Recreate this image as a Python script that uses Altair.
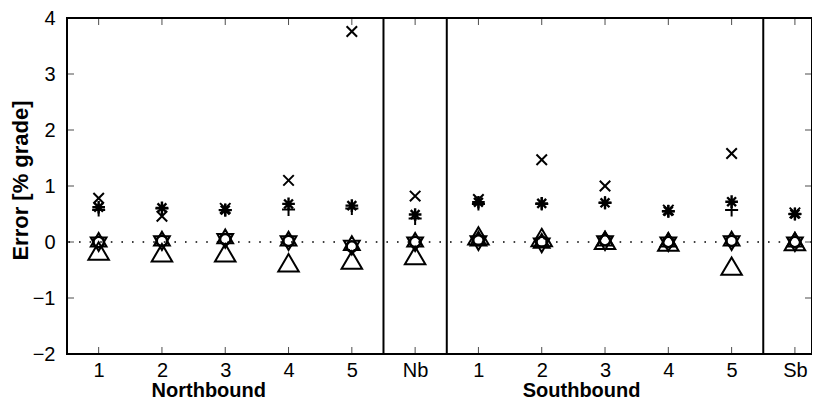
import json
import altair as alt
import pandas as pd

# ---- data ----
categories = ["1", "2", "3", "4", "5", "Nb", "1", "2", "3", "4", "5", "Sb"]
positions = list(range(1, 13))
cross_vals = [0.78, 0.46, 0.60, 1.10, 3.76, 0.82, 0.76, 1.47, 1.00, 0.57, 1.58, 0.52]
aster_vals = [0.62, 0.61, 0.57, 0.68, 0.65, 0.49, 0.71, 0.69, 0.70, 0.55, 0.72, 0.50]
plus_vals = [0.57, 0.60, 0.57, 0.58, 0.60, 0.42, 0.68, 0.68, 0.70, 0.55, 0.57, 0.50]
circle_vals = [0.00, 0.02, 0.05, 0.02, -0.08, 0.00, 0.03, 0.00, 0.03, 0.00, 0.02, 0.00]
hexa_vals = [0.00, 0.02, 0.06, 0.02, -0.06, 0.00, 0.02, -0.02, 0.02, 0.00, 0.02, 0.00]
tri_vals = [-0.17, -0.20, -0.20, -0.38, -0.33, -0.25, 0.10, 0.07, 0.02, -0.01, -0.44, 0.00]
separators = [5.5, 6.5, 11.5]
group_labels = ["Northbound", "Southbound"]
group_pos = [2.74, 8.63]
y_ticks = [-2, -1, 0, 1, 2, 3, 4]

W, H = 745, 336
FONT = "Liberation Sans"

xs = alt.Scale(domain=[0.5, 12.27], nice=False, zero=False)
ys = alt.Scale(domain=[-2, 4], nice=False, zero=False)

label_expr = "%s[datum.value - 1]" % json.dumps(categories)

x_axis = alt.Axis(values=positions, labelExpr=label_expr, ticks=False, domain=False,
                  grid=False, labelFont=FONT, labelFontSize=20, labelColor="black",
                  labelPadding=6, title=None)
y_axis = alt.Axis(values=y_ticks, ticks=False, domain=False, grid=False,
                  labelFont=FONT, labelFontSize=20, labelColor="black", labelPadding=12,
                  title="Error [% grade]", titleFont=FONT, titleFontSize=22,
                  titleFontWeight="bold", titleColor="black", titleX=-35, titleY=H / 2 - 6)

shapes = {
    "cross": ("M-1,-1L1,1M1,-1L-1,1", 110, 2, cross_vals),
    "aster": ("M-1,0L1,0M0,-1L0,1M-0.7,-0.7L0.7,0.7M-0.7,0.7L0.7,-0.7", 160, 2.4, aster_vals),
    "plus": ("M-1,0L1,0M0,-1L0,1", 170, 2, plus_vals),
    "circle": ("circle", 110, 2.6, circle_vals),
    "hexa": ("M0,-1L0.289,-0.5L0.866,-0.5L0.577,0L0.866,0.5L0.289,0.5L0,1L-0.289,0.5"
             "L-0.866,0.5L-0.577,0L-0.866,-0.5L-0.289,-0.5Z", 330, 2, hexa_vals),
    "tri": ("M0,-0.9L1,0.8L-1,0.8Z", 420, 2, tri_vals),
}

layers = []

# zero dotted line
layers.append(
    alt.Chart(pd.DataFrame({"y": [0]})).mark_rule(
        color="black", strokeWidth=1.6, strokeDash=[1.6, 9]
    ).encode(y=alt.Y("y:Q", scale=ys, axis=y_axis))
)

# separators
layers.append(
    alt.Chart(pd.DataFrame({"x": separators})).mark_rule(color="black", strokeWidth=2)
    .encode(x=alt.X("x:Q", scale=xs, axis=x_axis))
)

for name, (shape, size, sw, vals) in shapes.items():
    df = pd.DataFrame({"x": positions, "y": vals})
    layers.append(
        alt.Chart(df).mark_point(shape=shape, size=size, filled=False, color="black",
                                 strokeWidth=sw, opacity=1)
        .encode(x=alt.X("x:Q", scale=xs, axis=x_axis), y=alt.Y("y:Q", scale=ys, axis=y_axis))
    )

# inward ticks
xt = pd.DataFrame({"x": positions})
for yv in [H - 3.5, 3.5]:
    layers.append(
        alt.Chart(xt).mark_tick(orient="vertical", size=7, thickness=1, color="black")
        .encode(x=alt.X("x:Q", scale=xs, axis=x_axis), y=alt.value(yv))
    )
yt = pd.DataFrame({"y": y_ticks})
for xv in [3.5, W - 3.5]:
    layers.append(
        alt.Chart(yt).mark_tick(orient="horizontal", size=7, thickness=1, color="black")
        .encode(y=alt.Y("y:Q", scale=ys, axis=y_axis), x=alt.value(xv))
    )

# group labels
gl = pd.DataFrame({"x": group_pos, "t": group_labels})
layers.append(
    alt.Chart(gl).mark_text(font=FONT, fontSize=20, fontWeight="bold", color="black",
                            align="center", baseline="alphabetic", y=H + 43)
    .encode(x=alt.X("x:Q", scale=xs, axis=x_axis), text="t:N")
)

chart = alt.layer(*layers).properties(
    width=W, height=H,
    autosize=alt.AutoSizeParams(type="none"),
    padding={"left": 59, "top": 10, "right": 0, "bottom": 48},
    background="white",
).configure_view(stroke="black", strokeWidth=2)

chart.save("out.html", embed_options={"renderer": "svg", "actions": False})
